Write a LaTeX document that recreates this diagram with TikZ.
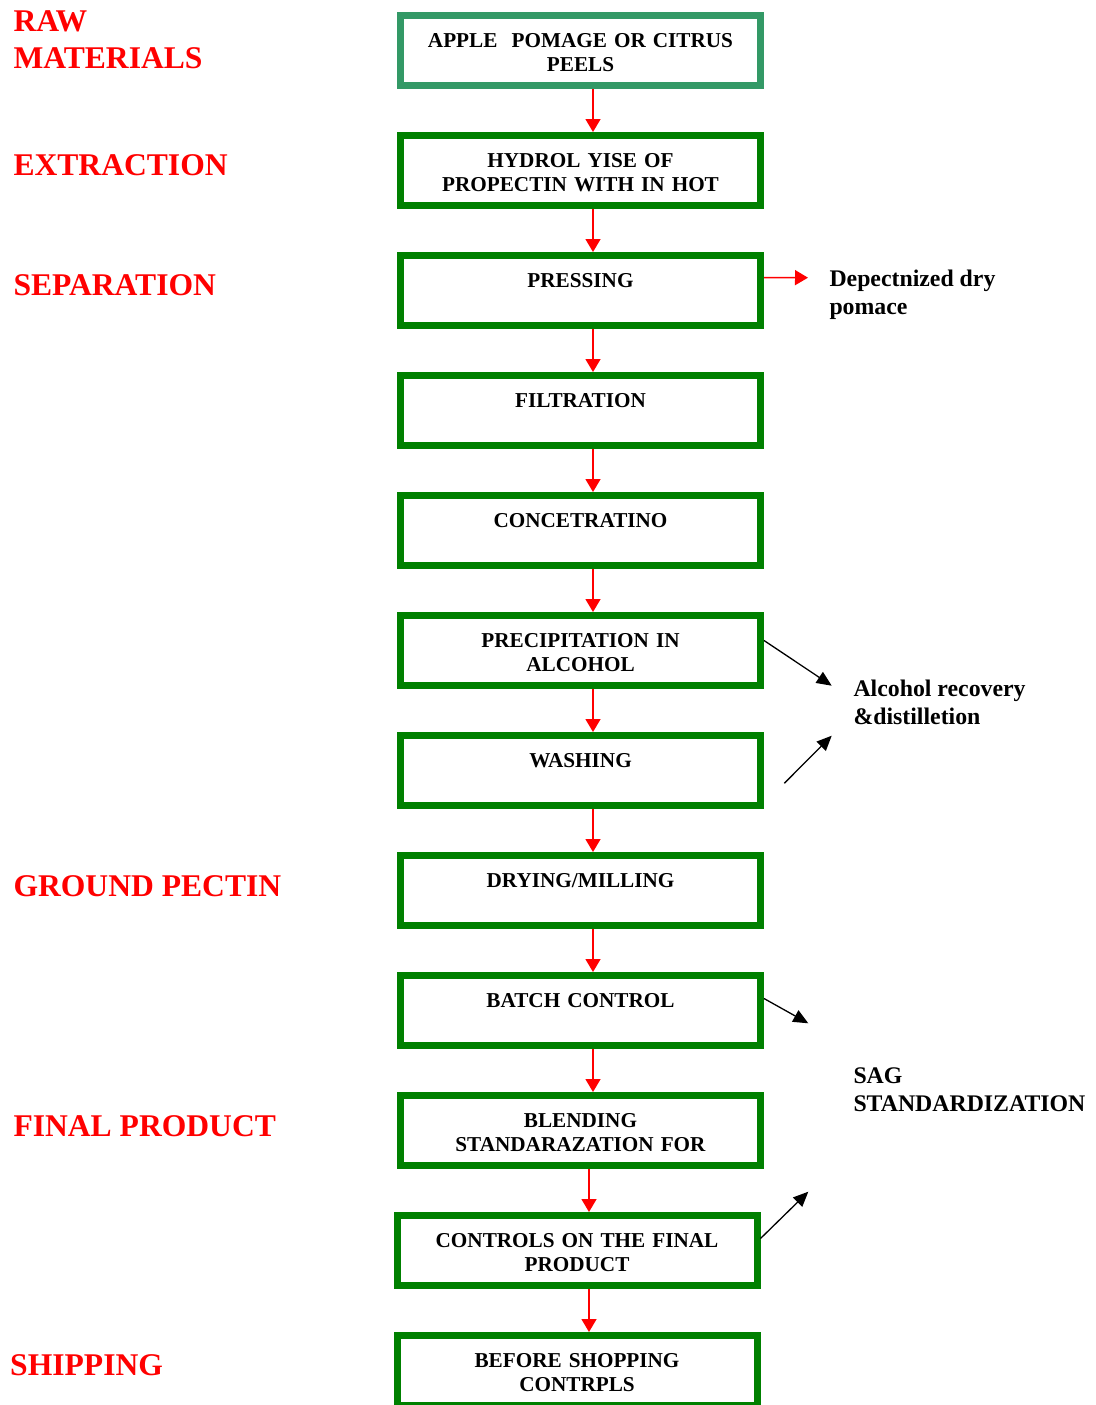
\documentclass[tikz,border=0pt]{standalone}
\usepackage{fontspec}
\setmainfont{Liberation Serif}
\usetikzlibrary{arrows.meta}
\definecolor{boxgreen}{RGB}{0,128,0}
\definecolor{tealgreen}{RGB}{51,153,102}
\begin{document}
\begin{tikzpicture}[x=1pt,y=-1pt,
 stepbox/.style={draw=boxgreen, line width=7pt, rectangle, text width=352pt, inner xsep=4pt, inner ysep=0pt, align=center, text height=32pt, text depth=38pt, font=\fontsize{21.2}{24}\selectfont\bfseries},
 flow/.style={draw=red, line width=1.5pt, -{Triangle[width=15pt,length=13pt]}},
 side/.style={draw=black, line width=1.3pt, -{Triangle[width=13pt,length=15pt]}},
 stage/.style={text=red, anchor=base west, inner sep=0pt, align=left, font=\fontsize{31.6}{36.6}\selectfont\bfseries},
 note/.style={anchor=base west, inner sep=0pt, align=left, font=\fontsize{23.8}{28}\selectfont\bfseries}]
\useasboundingbox (0,0) rectangle (1095,1405);
\clip (0,0) rectangle (1095,1405);

% stage labels (multi-line nodes: base = last line)
\node[stage] (l1) at (13.3,68.3) {RAW\\MATERIALS};
\node[stage] (l2) at (13.3,175) {EXTRACTION};
\node[stage] (l3) at (13.3,295) {SEPARATION};
\node[stage] (l4) at (13.3,896) {GROUND PECTIN};
\node[stage] (l5) at (13.3,1136) {FINAL PRODUCT};
\node[stage] (l6) at (10,1375) {SHIPPING};

% boxes
\node[stepbox, draw=tealgreen] (b1) at (580.5,50.5) {APPLE\ \ POMAGE OR CITRUS\\PEELS};
\node[stepbox] (b2) at (580.5,170.5) {HYDROL YISE OF\\PROPECTIN WITH IN HOT};
\node[stepbox] (b3) at (580.5,290.5) {PRESSING};
\node[stepbox] (b4) at (580.5,410.5) {FILTRATION};
\node[stepbox] (b5) at (580.5,530.5) {CONCETRATINO};
\node[stepbox] (b6) at (580.5,650.5) {PRECIPITATION IN\\ALCOHOL};
\node[stepbox] (b7) at (580.5,770.5) {WASHING};
\node[stepbox] (b8) at (580.5,890.5) {DRYING/MILLING};
\node[stepbox] (b9) at (580.5,1010.5) {BATCH CONTROL};
\node[stepbox] (b10) at (580.5,1130.5) {BLENDING\\STANDARAZATION FOR};
\node[stepbox] (b11) at (577,1250.5) {CONTROLS ON THE FINAL\\PRODUCT};
\node[stepbox] (b12) at (577,1370.5) {BEFORE SHOPPING\\CONTRPLS};

% flow arrows
\foreach \a/\b in {b1/b2,b2/b3,b3/b4,b4/b5,b5/b6,b6/b7,b7/b8,b8/b9,b9/b10}
  \draw[flow] ([xshift=12.5pt]\a.south) -- ([xshift=12.5pt]\b.north);
\draw[flow] ([xshift=8.5pt]b10.south) -- ([xshift=8.5pt]b10.south |- b11.north);
\draw[flow] ([xshift=12pt]b11.south) -- ([xshift=12pt]b12.north);

% side notes
\node[note] (n1) at (829.3,314) {Depectnized dry\\pomace};
\node[note] (n2) at (853.3,724) {Alcohol recovery\\\&distilletion};
\node[note] (n3) at (853.3,1111.7) {SAG\\STANDARDIZATION};

\coordinate (p1) at (808,277.7);
\draw[flow] ([yshift=13pt]b3.east) -- (p1);

\coordinate (t1) at (831.7,685.7);
\coordinate (s2) at (784.3,783.3);
\coordinate (t2) at (831.7,735.7);
\coordinate (t3) at (808.3,1023.3);
\coordinate (t4) at (808.3,1191.7);
\draw[side] ([yshift=10pt]b6.east) -- (t1);
\draw[side] (s2) -- (t2);
\draw[side] ([yshift=12pt]b9.east) -- (t3);
\draw[side] ([yshift=12pt]b11.east) -- (t4);
\end{tikzpicture}
\end{document}
